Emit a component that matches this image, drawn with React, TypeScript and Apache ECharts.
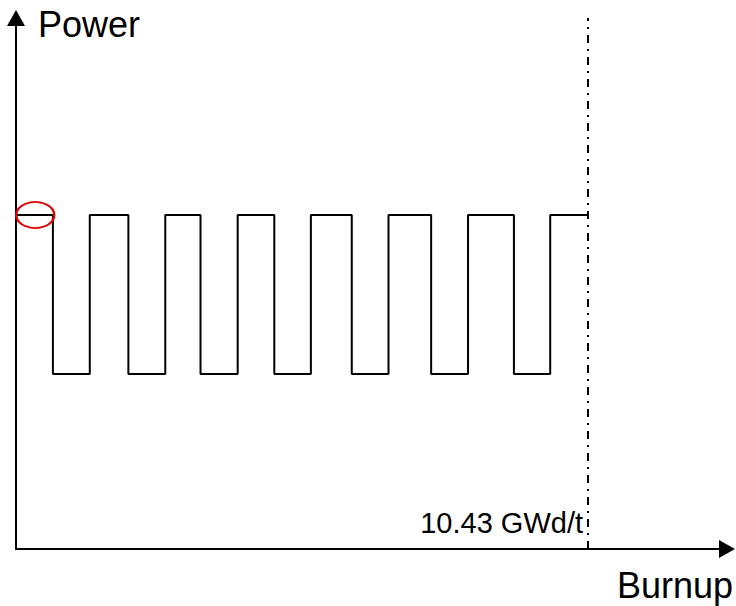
import React, { useEffect, useRef } from "react";
import * as echarts from "echarts";

// Burnup (GWd/t) at each step change of the power history
const burnupSteps = [0, 0.673, 1.346, 2.05, 2.723, 3.366, 4.044, 4.712, 5.379, 6.125, 6.795, 7.573, 8.246, 9.083, 9.745, 10.43];
// Relative power level held from each step to the next
const powerValues = [100, 52.4, 100, 52.4, 100, 52.4, 100, 52.4, 100, 52.4, 100, 52.4, 100, 52.4, 100, 100];
const endBurnup = 10.43;
const endLabel = "10.43 GWd/t";
const highlightPoint = [0.351, 100];
const xName = "Burnup";
const yName = "Power";

export default function App() {
  const ref = useRef<HTMLDivElement>(null);
  useEffect(() => {
    if (!ref.current) return;
    const chart = echarts.init(ref.current, null, { renderer: "svg" });
    const font = "Arial, 'Liberation Sans', sans-serif";
    const data = burnupSteps.map((b, i) => [b, powerValues[i]]);
    chart.setOption({
      animation: false,
      backgroundColor: "#fff",
      grid: { left: 16, right: 7, top: 18, bottom: 57 },
      xAxis: {
        type: "value",
        min: 0,
        max: 12.97,
        name: xName,
        nameLocation: "end",
        nameGap: 6,
        nameTextStyle: {
          fontFamily: font,
          fontSize: 36,
          color: "#000",
          align: "right",
          verticalAlign: "top",
          padding: [18, 0, 0, 0],
        },
        axisLine: {
          show: true,
          symbol: ["none", "triangle"],
          symbolSize: [18, 16],
          lineStyle: { color: "#000", width: 2 },
        },
        axisTick: { show: false },
        axisLabel: { show: false },
        splitLine: { show: false },
      },
      yAxis: {
        type: "value",
        min: 0,
        max: 159,
        name: yName,
        nameLocation: "end",
        nameGap: -6,
        nameTextStyle: {
          fontFamily: font,
          fontSize: 36,
          color: "#000",
          align: "left",
          verticalAlign: "middle",
          padding: [0, 0, 0, 22],
        },
        axisLine: {
          show: true,
          symbol: ["none", "triangle"],
          symbolSize: [18, 16],
          lineStyle: { color: "#000", width: 2 },
        },
        axisTick: { show: false },
        axisLabel: { show: false },
        splitLine: { show: false },
      },
      series: [
        {
          type: "line",
          step: "end",
          data,
          symbol: "none",
          lineStyle: { color: "#000", width: 2 },
          silent: true,
          markLine: {
            silent: true,
            symbol: ["none", "none"],
            label: { show: false },
            lineStyle: { color: "#000", width: 2, type: [8, 6, 2, 6] },
            data: [{ xAxis: endBurnup }],
          },
          markPoint: {
            silent: true,
            symbol: "circle",
            symbolSize: [38, 26],
            itemStyle: { color: "rgba(0,0,0,0)", borderColor: "#e00000", borderWidth: 2 },
            label: { show: false },
            data: [{ coord: highlightPoint }],
          },
        },
      ],
      graphic: [
        {
          type: "text",
          right: 736 - 583,
          top: 508,
          style: {
            text: endLabel,
            fontFamily: font,
            fontSize: 29,
            fill: "#000",
          },
        },
      ],
    });
    return () => chart.dispose();
  }, []);
  return (
    <div
      ref={ref}
      style={{ position: "fixed", left: 0, top: 0, width: 736, height: 606 }}
    />
  );
}
